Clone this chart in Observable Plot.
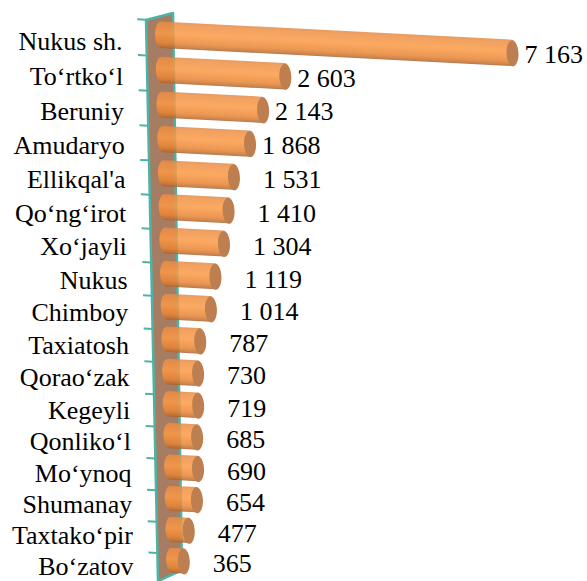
<!DOCTYPE html>
<html>
<head>
<meta charset="utf-8">
<style>html,body{margin:0;padding:0;background:#fff}svg{display:block}</style>
<script src="https://cdn.jsdelivr.net/npm/d3@7"></script>
<script src="https://cdn.jsdelivr.net/npm/@observablehq/plot@0.6"></script>
</head>
<body>
<div id="chart"></div>
<script>
const districts = ["Nukus sh.","To‘rtko‘l","Beruniy","Amudaryo","Ellikqal'a","Qo‘ng‘irot","Xo‘jayli","Nukus","Chimboy","Taxiatosh","Qorao‘zak","Kegeyli","Qonliko‘l","Mo‘ynoq","Shumanay","Taxtako‘pir","Bo‘zatov"];
const counts = [7163,2603,2143,1868,1531,1410,1304,1119,1014,787,730,719,685,690,654,477,365];

const rows = districts.map((name, i) => ({name, value: counts[i], row: i, depth: 50 + i}));
const fmt = d3.formatLocale({decimal: ".", thousands: " ", grouping: [3], currency: ["", ""]}).format(",");

// Oblique view of the 3-D chart: values climb down-right, rows lean right.
const K = 0.0515, C = 0.021, X0 = 155, Y0 = 34.5;
const obliqueGroup = (I, s, v, d, c, next) => {
  const g = next(I, s, v, d, c);
  g.setAttribute("transform", `matrix(1 ${K} ${C} 1 ${-C * Y0} ${-K * X0}) ${g.getAttribute("transform") || ""}`);
  return g;
};
const obliquePoints = (I, s, v, d, c, next) => {
  const x = Array.from(v.x, (px, i) => px + C * (v.y[i] - Y0));
  const y = Array.from(v.y, (py, i) => py + K * (v.x[i] - X0));
  return next(I, s, {...v, x, y}, d, c);
};

const cylinderGradient = () => {
  const g = document.createElementNS("http://www.w3.org/2000/svg", "g");
  g.innerHTML = `<defs><linearGradient id="cyl" x1="0" y1="0" x2="0" y2="1">
    <stop offset="0" stop-color="#e08a48"/><stop offset="0.1" stop-color="#ef9044"/>
    <stop offset="0.45" stop-color="#fb9a46"/><stop offset="0.8" stop-color="#e88434"/>
    <stop offset="0.94" stop-color="#c4702c"/><stop offset="1" stop-color="#a06236"/>
  </linearGradient></defs>`;
  return g;
};
const capSymbol = {
  draw(ctx) {
    const a = 6, b = 13, m = 0.5523;
    ctx.moveTo(a, 0);
    ctx.bezierCurveTo(a, b * m, a * m, b, 0, b);
    ctx.bezierCurveTo(-a * m, b, -a, b * m, -a, 0);
    ctx.bezierCurveTo(-a, -b * m, -a * m, -b, 0, -b);
    ctx.bezierCurveTo(a * m, -b, a, -b * m, a, 0);
    ctx.closePath();
  }
};

const wall = [
  {x1: -280, y1: 49.59, x2: 260, y2: 49.39},
  {x1: -40, y1: 66.69, x2: 440, y2: 66.33}
];
const serif = "'Liberation Serif', serif";
const halfBar = d => 0.375 + 0.035 * d.row / 16;

const plot = Plot.plot({
  width: 587, height: 581,
  marginTop: 0, marginRight: 0, marginBottom: 0, marginLeft: 0,
  x: {domain: [0, 7163], range: [160, 518], axis: null},
  y: {type: "sqrt", domain: [50, 66], range: [34.5, 560], axis: null},
  marks: [
    cylinderGradient,
    Plot.area(wall, {x1: "x1", y1: "y1", x2: "x2", y2: "y2", fill: "#a67c62", stroke: "#4db3a6", strokeWidth: 2.5, curve: "linear"}),
    Plot.link(rows, {
      x1: () => -460, x2: () => -280,
      y1: d => d.depth - 0.42 + 0.012 * d.row, y2: d => d.depth - 0.42 + 0.012 * d.row,
      stroke: "#4db3a6", strokeWidth: 2, render: obliqueGroup
    }),
    Plot.rect(rows, {
      x1: () => -100, x2: "value",
      y1: d => d.depth - halfBar(d), y2: d => d.depth + halfBar(d),
      fill: "url(#cyl)", opacity: 0.85, rx: 6, ry: 13, render: obliqueGroup
    }),
    Plot.dot(rows, {
      x: "value", y: "depth", dx: -6, symbol: capSymbol, r: 5,
      fill: "#bd7f50", stroke: "none", render: obliqueGroup
    }),
    Plot.text(rows, {
      x: () => -760, y: "depth", text: "name", textAnchor: "end", dy: 8,
      fontFamily: serif, fontSize: 26, fill: "#000", render: obliquePoints
    }),
    Plot.text(rows, {
      x: d => d.value + (d.value > 1800 ? 120 : 460), y: "depth", text: d => fmt(d.value),
      textAnchor: "start", dy: 1,
      fontFamily: serif, fontSize: 26, fill: "#000", render: obliquePoints
    })
  ]
});
document.getElementById("chart").append(plot);
</script>
</body>
</html>
